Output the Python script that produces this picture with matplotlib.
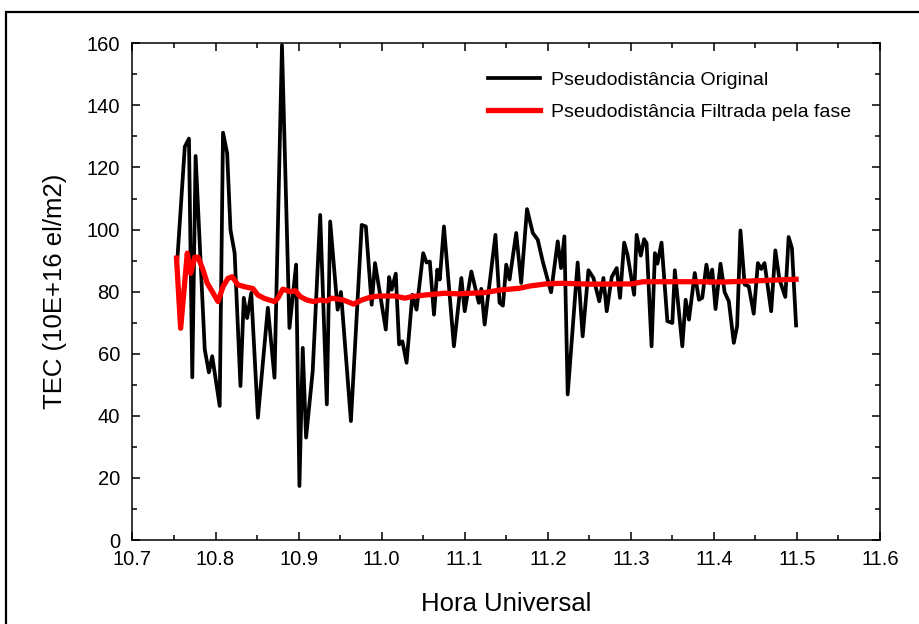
import numpy as np
import matplotlib
matplotlib.use("Agg")
import matplotlib.pyplot as plt
from matplotlib.patches import Rectangle
from matplotlib.ticker import MultipleLocator, FormatStrFormatter

# Pseudorange-derived TEC, raw
hora_orig = [10.754, 10.763, 10.768, 10.772, 10.776, 10.787, 10.792, 10.796, 10.805, 10.809,
             10.814, 10.818, 10.823, 10.830, 10.834, 10.838, 10.843, 10.851, 10.863, 10.871,
             10.880, 10.889, 10.897, 10.901, 10.905, 10.909, 10.917, 10.926, 10.934, 10.938,
             10.947, 10.951, 10.963, 10.976, 10.981, 10.988, 10.992, 11.005, 11.009, 11.012,
             11.017, 11.021, 11.025, 11.030, 11.037, 11.042, 11.050, 11.054, 11.058, 11.063,
             11.067, 11.070, 11.075, 11.087, 11.096, 11.100, 11.108, 11.117, 11.120, 11.124,
             11.137, 11.142, 11.146, 11.150, 11.154, 11.162, 11.168, 11.175, 11.182, 11.188,
             11.194, 11.204, 11.212, 11.216, 11.220, 11.224, 11.236, 11.242, 11.249, 11.255,
             11.262, 11.267, 11.271, 11.277, 11.283, 11.287, 11.292, 11.296, 11.304, 11.307,
             11.312, 11.316, 11.319, 11.325, 11.329, 11.332, 11.337, 11.344, 11.350, 11.353,
             11.362, 11.366, 11.370, 11.377, 11.382, 11.386, 11.391, 11.395, 11.398, 11.402,
             11.408, 11.413, 11.418, 11.424, 11.428, 11.432, 11.437, 11.442, 11.448, 11.453,
             11.457, 11.461, 11.469, 11.474, 11.479, 11.486, 11.490, 11.494, 11.499]
tec_orig = [90.3, 126.7, 129.3, 52.4, 123.7, 61.4, 54.0, 59.2, 43.2, 131.2,
            124.6, 99.9, 92.4, 49.6, 78.0, 71.5, 79.6, 39.4, 74.8, 52.3,
            159.4, 68.3, 88.7, 17.4, 61.9, 33.0, 54.4, 104.7, 43.7, 102.6,
            74.2, 79.9, 38.3, 101.5, 101.0, 75.8, 89.2, 67.8, 84.7, 80.6,
            85.8, 63.0, 64.0, 57.1, 79.0, 74.2, 92.4, 89.4, 89.7, 72.6,
            87.1, 83.9, 101.0, 62.4, 84.4, 73.7, 86.5, 76.4, 80.9, 69.4,
            98.3, 76.4, 75.5, 88.7, 83.9, 98.9, 82.8, 106.6, 98.9, 96.7,
            89.7, 79.8, 96.2, 87.6, 97.8, 46.9, 89.4, 65.6, 86.9, 84.4,
            76.9, 84.4, 73.7, 84.7, 87.6, 78.0, 95.8, 91.9, 79.0, 98.3,
            91.6, 96.9, 95.6, 62.4, 92.4, 89.0, 95.8, 70.5, 69.9, 86.9,
            62.4, 77.4, 71.0, 86.0, 77.4, 78.0, 88.7, 82.8, 87.1, 74.4,
            89.0, 79.8, 76.9, 63.5, 68.9, 99.7, 82.3, 81.7, 72.9, 89.2,
            87.3, 89.2, 73.7, 93.3, 83.9, 78.3, 97.6, 94.0, 69.1]

# Phase-smoothed pseudorange TEC
hora_filt = [10.753, 10.758, 10.766, 10.770, 10.775, 10.779, 10.785, 10.790, 10.795, 10.803,
             10.809, 10.815, 10.820, 10.827, 10.835, 10.845, 10.851, 10.859, 10.871, 10.875,
             10.881, 10.890, 10.896, 10.902, 10.910, 10.918, 10.926, 10.934, 10.940, 10.954,
             10.966, 10.976, 10.986, 10.998, 11.016, 11.028, 11.036, 11.052, 11.076, 11.092,
             11.124, 11.142, 11.166, 11.178, 11.198, 11.218, 11.251, 11.301, 11.315, 11.377,
             11.411, 11.451, 11.499]
tec_filt = [90.8, 68.2, 92.4, 85.9, 91.1, 91.1, 87.0, 82.7, 80.5, 76.8,
            81.6, 84.3, 84.8, 82.2, 81.6, 81.0, 78.9, 77.8, 76.8, 77.9,
            80.8, 80.0, 80.3, 78.4, 77.3, 76.8, 77.3, 77.0, 77.9, 77.3,
            76.0, 77.3, 78.2, 78.6, 78.6, 77.9, 78.4, 78.9, 79.5, 79.3,
            79.7, 80.5, 81.1, 81.8, 82.5, 82.7, 82.4, 82.5, 83.2, 83.2,
            83.1, 83.5, 84.0]

plt.rcParams['font.family'] = ['Liberation Sans', 'DejaVu Sans']

fig = plt.figure(figsize=[9.2, 6.24], dpi=100)
ax = fig.add_axes([0.144, 0.1346, 0.8125, 0.796])

ax.plot(hora_orig, tec_orig, color='black', lw=2.7, label='Pseudodistância Original')
ax.plot(hora_filt, tec_filt, color='#ff0000', lw=3.8, label='Pseudodistância Filtrada pela fase')

ax.set_xlim(10.7, 11.6)
ax.set_ylim(0, 160)
ax.xaxis.set_major_locator(MultipleLocator(0.1))
ax.xaxis.set_minor_locator(MultipleLocator(0.05))
ax.xaxis.set_major_formatter(FormatStrFormatter('%.1f'))
ax.yaxis.set_major_locator(MultipleLocator(20))
ax.yaxis.set_minor_locator(MultipleLocator(10))
ax.tick_params(which='both', direction='in', top=True, right=True, width=1.1, labelsize=14.5)
ax.tick_params(axis='x', pad=7)
ax.tick_params(axis='y', pad=9)
ax.tick_params(which='major', length=6)
ax.tick_params(which='minor', length=3.5)
for s in ax.spines.values():
    s.set_linewidth(1.1)

ax.set_xlabel('Hora Universal', fontsize=18.5, labelpad=17)
ax.set_ylabel('TEC (10E+16 el/m2)', fontsize=18.5, labelpad=14)

ax.legend(loc='upper left', bbox_to_anchor=(0.4756, 0.944), frameon=False, fontsize=14,
          borderpad=0, borderaxespad=0, handlelength=2.7, handletextpad=0.55, labelspacing=0.75)

# outer page frame
fig.patches.append(Rectangle((6 / 920, -0.2), 2.0, 1.2 - 12 / 624, transform=fig.transFigure,
                             fill=False, edgecolor='black', lw=1.6))

fig.savefig('out.png', dpi=100)
